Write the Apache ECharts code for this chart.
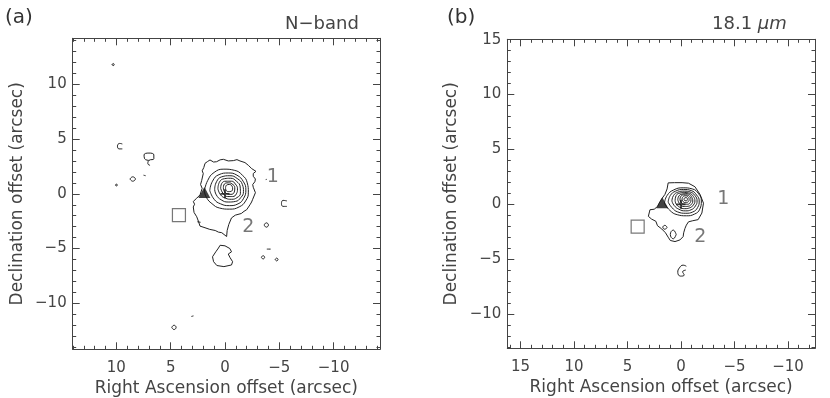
<!DOCTYPE html>
<html>
<head>
<meta charset="utf-8">
<script src="https://cdn.jsdelivr.net/npm/echarts@6/dist/echarts.min.js"></script>
<style>
  html, body { margin: 0; background: #fff; }
  #main { width: 830px; height: 398px; }
</style>
</head>
<body>
<div id="main"></div>
<script>
// ---- panel (a) : N-band ----
var outerA = [[1.84,2.78],[1.6,2.95],[1.38,3.09],[1.05,2.9],[0.77,2.93],[0.45,3.1],[0.15,3.15],[-0.3,3.0],[-0.77,3.03],
  [-1.1,3.12],[-1.38,3.0],[-1.84,2.85],[-2.15,2.6],[-2.46,2.3],[-2.85,2.05],[-2.6,1.85],[-2.6,1.6],[-2.8,1.35],[-2.75,1.1],
  [-2.55,0.85],[-2.6,0.6],[-2.8,0.1],[-2.55,-0.5],[-2.45,-0.75],[-2.3,-1.0],[-2.0,-1.45],[-1.75,-1.6],
  [-1.5,-1.8],[-0.95,-1.95],[-0.6,-2.2],[-0.35,-2.8],[-0.2,-3.35],[-0.15,-3.9],[0.3,-3.55],[0.6,-3.5],[0.9,-3.35],[1.4,-3.25],
  [1.84,-3.1],[2.3,-2.95],[2.45,-2.5],[2.6,-2.1],[2.85,-1.7],[2.92,-1.2],[2.8,-0.95],[2.92,-0.7],[2.6,-0.4],[2.3,-0.1],
  [2.1,0.5],[2.25,0.85],[2.15,1.2],[2.0,1.85],[2.1,2.1],[1.95,2.4],[1.84,2.78]];
var ringsA = [
  [[1.9,0.25],[1.6,1.2],[1.0,1.95],[0.1,2.25],[-0.85,2.15],[-1.6,1.7],[-2.05,1.0],[-2.15,0.15],[-1.9,-0.65],[-1.3,-1.2],[-0.4,-1.4],[0.5,-1.3],[1.2,-0.9],[1.7,-0.35],[1.9,0.25]],
  [[1.4,0.3],[1.15,1.15],[0.55,1.75],[-0.3,1.9],[-1.1,1.7],[-1.7,1.1],[-1.92,0.35],[-1.72,-0.4],[-1.2,-0.92],[-0.4,-1.08],[0.4,-0.92],[1.0,-0.5],[1.4,0.3]],
  [[0.95,0.4],[0.78,1.1],[0.3,1.55],[-0.45,1.65],[-1.12,1.4],[-1.6,0.85],[-1.7,0.2],[-1.45,-0.35],[-0.95,-0.7],[-0.3,-0.75],[0.35,-0.55],[0.8,-0.1],[0.95,0.4]],
  [[0.65,0.45],[0.52,1.05],[0.05,1.38],[-0.5,1.42],[-1.05,1.15],[-1.4,0.62],[-1.42,0.05],[-1.1,-0.35],[-0.6,-0.5],[-0.05,-0.4],[0.4,-0.1],[0.65,0.45]],
  [[0.4,0.5],[0.3,0.95],[-0.1,1.15],[-0.6,1.15],[-0.95,0.9],[-1.15,0.45],[-1.05,0.0],[-0.7,-0.25],[-0.25,-0.25],[0.15,0.0],[0.4,0.5]],
  [[0.15,0.55],[0.05,0.9],[-0.3,1.0],[-0.65,0.9],[-0.9,0.55],[-0.85,0.15],[-0.55,-0.05],[-0.2,0.0],[0.05,0.2],[0.15,0.55]],
  [[-0.05,0.55],[-0.15,0.8],[-0.4,0.85],[-0.65,0.7],[-0.7,0.45],[-0.55,0.22],[-0.3,0.2],[-0.1,0.32],[-0.05,0.55]]
];
var blobA = [[0.45,-4.7],[0.0,-4.75],[-0.45,-5.0],[-0.6,-5.3],[-0.3,-5.5],[-0.45,-5.8],[-0.7,-6.2],[-0.6,-6.5],
  [0.1,-6.65],[0.75,-6.55],[1.05,-6.2],[1.15,-5.75],[0.85,-5.3],[0.6,-4.95],[0.45,-4.7]];
var specksA = [
  [[10.4,11.8],[10.3,11.9],[10.2,11.8],[10.3,11.7],[10.4,11.8]],
  [[9.45,4.55],[9.7,4.6],[9.9,4.35],[9.75,4.1],[9.45,4.1]],
  [[7.0,3.05],[7.4,3.2],[7.45,3.55],[7.0,3.72],[6.55,3.55],[6.55,3.2],[7.0,3.05],[7.1,2.75],[6.9,2.6]],
  [[10.1,0.8],[10.0,0.88],[9.9,0.8],[10.0,0.72],[10.1,0.8]],
  [[8.75,1.35],[8.5,1.55],[8.25,1.35],[8.5,1.15],[8.75,1.35]],
  [[7.5,1.7],[7.3,1.65]],
  [[-5.7,-0.65],[-5.35,-0.6],[-5.2,-0.9],[-5.35,-1.15],[-5.7,-1.15]],
  [[-3.6,-2.85],[-3.8,-2.65],[-4.0,-2.85],[-3.8,-3.05],[-3.6,-2.85]],
  [[-3.85,-5.05],[-4.2,-5.05]],
  [[-3.35,-5.8],[-3.5,-5.65],[-3.65,-5.8],[-3.5,-5.95],[-3.35,-5.8]],
  [[-4.62,-6.0],[-4.75,-5.87],[-4.88,-6.0],[-4.75,-6.13],[-4.62,-6.0]],
  [[4.9,-12.2],[4.7,-12.0],[4.5,-12.2],[4.7,-12.4],[4.9,-12.2]],
  [[3.1,-11.2],[2.9,-11.15]],
  [[2.55,-2.55],[2.25,-2.6]],
  [[-3.75,1.3],[-3.85,1.32]]
];
var triangleA = [[1.9, 0.12]];
var crossA = [[0, 0]];
var squareA = [[4.24, -1.94]];
var namesA = [['1', -4.4, 1.56], ['2', -2.15, -3.0]];

// ---- panel (b) : 18.1 um ----
var outerB = [[1.2,1.95],[0.6,1.97],[-0.1,1.97],[-0.7,1.92],[-1.3,1.6],[-1.78,0.9],[-2.1,0.1],[-1.95,-0.8],
  [-1.6,-1.4],[-1.1,-1.5],[-0.7,-1.6],[-0.5,-1.9],[-0.37,-2.2],[-0.25,-2.6],[-0.2,-2.95],[0.1,-3.25],[0.56,-3.4],
  [1.0,-3.3],[1.2,-3.0],[1.45,-2.6],[1.8,-2.25],[2.2,-1.95],[2.35,-1.55],[2.75,-1.35],[3.05,-1.1],[2.95,-0.7],
  [2.9,-0.5],[2.5,-0.45],[2.2,-0.2],[2.05,0.1],[1.8,0.5],[1.5,0.9],[1.3,1.4],[1.2,1.95]];
var ringsB = [
  [[1.55,0.1],[1.3,0.8],[0.7,1.3],[-0.2,1.5],[-1.05,1.4],[-1.65,0.95],[-1.9,0.3],[-1.75,-0.45],[-1.25,-0.9],[-0.5,-1.05],[0.35,-0.95],[1.05,-0.55],[1.55,0.1]],
  [[1.2,0.2],[1.0,0.8],[0.5,1.2],[-0.25,1.35],[-0.95,1.25],[-1.45,0.85],[-1.7,0.3],[-1.55,-0.3],[-1.1,-0.7],[-0.45,-0.82],[0.3,-0.7],[0.85,-0.3],[1.2,0.2]],
  [[0.85,0.3],[0.7,0.8],[0.3,1.1],[-0.3,1.2],[-0.85,1.12],[-1.3,0.8],[-1.5,0.3],[-1.35,-0.15],[-0.95,-0.5],[-0.4,-0.6],[0.2,-0.45],[0.65,-0.1],[0.85,0.3]],
  [[0.55,0.35],[0.45,0.8],[0.1,1.02],[-0.35,1.08],[-0.8,1.0],[-1.15,0.72],[-1.3,0.3],[-1.15,-0.07],[-0.8,-0.33],[-0.35,-0.4],[0.12,-0.27],[0.45,0.02],[0.55,0.35]],
  [[0.3,0.4],[0.2,0.75],[-0.1,0.93],[-0.45,0.97],[-0.8,0.88],[-1.02,0.62],[-1.1,0.3],[-0.97,0.0],[-0.68,-0.18],[-0.3,-0.2],[0.05,-0.06],[0.3,0.4]],
  [[0.1,0.45],[0.0,0.74],[-0.25,0.86],[-0.55,0.85],[-0.82,0.7],[-0.93,0.43],[-0.86,0.15],[-0.6,0.0],[-0.25,0.02],[0.0,0.2],[0.1,0.45]],
  [[-0.1,0.47],[-0.18,0.68],[-0.42,0.77],[-0.66,0.68],[-0.76,0.45],[-0.68,0.24],[-0.45,0.15],[-0.2,0.24],[-0.1,0.47]],
  [[-0.28,0.46],[-0.38,0.6],[-0.52,0.6],[-0.6,0.46],[-0.52,0.32],[-0.38,0.32],[-0.28,0.46]]
];
var specksB = [
  [[0.45,-2.75],[0.72,-2.35],[1.0,-2.75],[0.72,-3.15],[0.45,-2.75]],
  [[1.3,-2.1],[1.5,-1.92],[1.7,-2.1],[1.5,-2.28],[1.3,-2.1]],
  [[-0.5,-5.65],[-0.2,-5.55],[0.15,-5.8],[0.3,-6.2],[0.05,-6.55],[-0.3,-6.45],[-0.15,-6.15],[-0.45,-6.0]]
];
var triangleB = [[1.75, 0.15]];
var crossB = [[0, 0]];
var squareB = [[4.05, -2.04]];
var namesB = [['1', -3.96, 0.48], ['2', -1.8, -2.95]];

// axis ranges and tick values
var xRangeA = [-14.27, 14.02], yRangeA = [-14.2, 14.2];
var xRangeB = [-12.52, 16.23], yRangeB = [-13.13, 15.04];
var majorA = [-10, -5, 0, 5, 10];
var majorB = [-10, -5, 0, 5, 10, 15];

function ints(a, b) { var r = []; for (var i = a; i <= b; i++) r.push(i); return r; }

var ink = '#444';
var font = 'DejaVu Sans';
function fmt(v) { return v < 0 ? '\u2212' + Math.abs(v) : String(v); }

function makeAxes(g, dim, range, major, minor) {
  var isX = dim === 'x';
  var base = {
    gridIndex: g, type: 'value', min: range[0], max: range[1], inverse: isX,
    splitLine: { show: false }, axisPointer: { show: false }
  };
  var pos = isX ? ['bottom', 'top'] : ['left', 'right'];
  var out = [];
  pos.forEach(function (p, k) {
    // major ticks (with line, and labels on the main side)
    out.push(Object.assign({}, base, {
      position: p,
      axisLine: { show: true, onZero: false, lineStyle: { color: ink, width: 1 } },
      axisTick: { show: true, inside: true, length: 7, customValues: major, lineStyle: { color: ink } },
      axisLabel: k === 0 ? {
        show: true, customValues: major, formatter: fmt, margin: isX ? 11 : 6,
        color: ink, fontFamily: font, fontSize: 15
      } : { show: false },
      name: k === 0 ? (isX ? 'Right Ascension offset (arcsec)' : 'Declination offset (arcsec)') : '',
      nameLocation: 'middle',
      nameGap: isX ? 28 : 47,
      nameTextStyle: { color: ink, fontFamily: font, fontSize: 17 }
    }));
    // minor ticks
    out.push(Object.assign({}, base, {
      position: p,
      axisLine: { show: false, onZero: false },
      axisTick: { show: true, inside: true, length: 3.5, customValues: minor, lineStyle: { color: ink } },
      axisLabel: { show: false }
    }));
  });
  return out;
}

var xAxes = [].concat(
  makeAxes(0, 'x', xRangeA, majorA, ints(-14, 14)),
  makeAxes(1, 'x', xRangeB, majorB, ints(-12, 16))
);
var yAxes = [].concat(
  makeAxes(0, 'y', yRangeA, majorA, ints(-14, 14)),
  makeAxes(1, 'y', yRangeB, majorB, ints(-13, 15))
);

function contour(pts, g, smooth) {
  return {
    type: 'line', xAxisIndex: g * 4, yAxisIndex: g * 4, data: pts,
    symbol: 'none', smooth: smooth, silent: true,
    lineStyle: { color: '#222', width: 1 }, z: 3
  };
}

function markers(g, tri, cross, sq, names) {
  var xi = g * 4, yi = g * 4;
  return [
    { type: 'scatter', xAxisIndex: xi, yAxisIndex: yi, data: tri, symbol: 'triangle',
      symbolSize: [12, 11], itemStyle: { color: '#111' }, z: 5, silent: true },
    { type: 'scatter', xAxisIndex: xi, yAxisIndex: yi, data: cross,
      symbol: 'path://M4,0H6V4H10V6H6V10H4V6H0V4H4Z', symbolSize: 9,
      itemStyle: { color: '#111' }, z: 5, silent: true },
    { type: 'scatter', xAxisIndex: xi, yAxisIndex: yi, data: sq, symbol: 'rect', symbolSize: 13,
      itemStyle: { color: 'rgba(0,0,0,0)', borderColor: '#555', borderWidth: 1.2 }, z: 5, silent: true },
    { type: 'scatter', xAxisIndex: xi, yAxisIndex: yi,
      data: names.map(function (n) { return { name: n[0], value: [n[1], n[2]] }; }),
      symbolSize: 1, itemStyle: { color: 'rgba(0,0,0,0)' }, silent: true, z: 5,
      label: { show: true, position: 'inside', formatter: '{b}', color: '#555',
        fontFamily: font, fontSize: 19 } }
  ];
}

var series = [];
series.push(contour(outerA, 0, false));
ringsA.forEach(function (r) { series.push(contour(r, 0, 0.5)); });
series.push(contour(blobA, 0, false));
specksA.forEach(function (r) { series.push(contour(r, 0, 0.5)); });
series.push(contour(outerB, 1, false));
ringsB.forEach(function (r) { series.push(contour(r, 1, 0.5)); });
specksB.forEach(function (r) { series.push(contour(r, 1, 0.5)); });
series = series.concat(markers(0, triangleA, crossA, squareA, namesA));
series = series.concat(markers(1, triangleB, crossB, squareB, namesB));

var chart = echarts.init(document.getElementById('main'));
chart.setOption({
  animation: false,
  backgroundColor: '#fff',
  title: [
    { text: '(a)', left: 0, top: 3, textStyle: { color: '#333', fontFamily: font, fontSize: 20, fontWeight: 'normal' } },
    { text: 'N\u2212band', left: 280, top: 10, textStyle: { color: '#444', fontFamily: font, fontSize: 18, fontWeight: 'normal' } },
    { text: '(b)', left: 442, top: 3, textStyle: { color: '#333', fontFamily: font, fontSize: 20, fontWeight: 'normal' } },
    { text: '18.1 {i|\u03bcm}', left: 707, top: 10, textStyle: { color: '#444', fontFamily: font, fontSize: 18, fontWeight: 'normal',
      rich: { i: { fontStyle: 'italic', fontFamily: font, fontSize: 18, color: '#444' } } } }
  ],
  grid: [
    { left: 72.7, top: 38.3, width: 307.3, height: 311, containLabel: false, outerBoundsMode: 'none' },
    { left: 507.3, top: 39.3, width: 307.7, height: 309, containLabel: false, outerBoundsMode: 'none' }
  ],
  xAxis: xAxes,
  yAxis: yAxes,
  series: series
});
</script>
</body>
</html>
